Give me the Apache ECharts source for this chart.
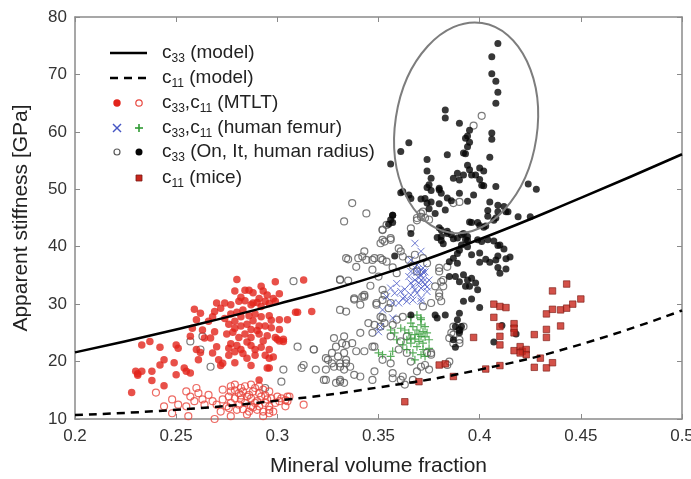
<!DOCTYPE html>
<html>
<head>
<meta charset="utf-8">
<script src="https://cdn.jsdelivr.net/npm/echarts@6/dist/echarts.min.js"></script>
<style>
html,body{margin:0;padding:0;background:#fff;}
#chart{width:691px;height:479px;}
</style>
</head>
<body>
<div id="chart"></div>
<script>
// ---------- data ----------
const xTicks = [0.2, 0.25, 0.3, 0.35, 0.4, 0.45, 0.5];
const yTicks = [10, 20, 30, 40, 50, 60, 70, 80];

const c33Model = [[0.2,21.6],[0.25,25.6],[0.3,30.0],[0.35,35.0],[0.4,41.3],[0.45,48.5],[0.5,56.1]];
const c11Model = [[0.2,10.7],[0.25,11.6],[0.3,13.2],[0.35,15.5],[0.4,18.6],[0.45,23.0],[0.5,28.9]];

const mtltC33 = [[0.228,14.6],[0.230,18.3],[0.231,17.9],[0.233,18.3],[0.231,17.6],[0.233,22.9],[0.237,23.5],[0.238,18.3],[0.238,16.7],[0.242,22.5],[0.244,20.3],[0.242,19.4],[0.244,15.8],[0.249,19.8],[0.250,17.7],[0.250,22.9],[0.251,22.3],[0.254,18.9],[0.255,18.3],[0.257,18.0],[0.257,24.4],[0.258,25.8],[0.259,29.1],[0.260,27.3],[0.262,28.4],[0.260,22.1],[0.262,21.6],[0.261,20.3],[0.263,25.5],[0.264,24.1],[0.266,27.0],[0.268,27.8],[0.269,28.7],[0.270,30.2],[0.272,29.3],[0.267,24.1],[0.269,25.2],[0.270,22.6],[0.268,21.5],[0.271,20.3],[0.273,19.7],[0.272,19.3],
[0.280,34.3],[0.313,34.2],[0.299,33.9],[0.292,33.1],[0.279,32.3],[0.284,32.4],[0.286,32.4],[0.301,31.8],[0.295,31.6],[0.298,31.0],[0.291,31.0],[0.288,30.2],[0.294,30.5],[0.274,30.2],[0.277,29.9],[0.281,30.5],[0.284,30.6],[0.287,29.9],[0.290,30.3],[0.292,29.6],[0.296,30.1],[0.299,30.5],[0.309,28.6],[0.310,28.6],[0.317,28.7],[0.305,27.3],[0.301,27.3],[0.277,28.3],[0.280,28.6],[0.282,27.8],[0.286,28.0],[0.289,28.3],[0.292,27.8],[0.296,28.0],[0.297,27.2],[0.276,26.5],[0.279,27.0],[0.282,26.2],[0.285,26.5],[0.287,25.6],[0.291,26.2],[0.294,26.2],[0.297,25.9],[0.301,25.6],[0.275,24.8],[0.278,25.1],[0.281,24.2],[0.284,24.8],[0.287,24.2],[0.291,24.8],[0.295,24.5],[0.299,24.2],[0.293,23.6],[0.300,23.9],[0.303,23.9],[0.277,23.1],[0.280,22.8],[0.282,22.1],[0.287,22.8],[0.289,22.1],[0.292,22.5],[0.296,22.1],[0.276,21.1],[0.279,21.7],[0.283,21.4],[0.289,21.1],[0.294,21.1],[0.296,20.6],[0.298,20.8],[0.296,18.9],[0.291,16.8],[0.303,23.5],[0.301,23.6],[0.295,18.9],
[0.283,29.0],[0.288,27.1],[0.285,23.4],[0.279,25.8],[0.290,25.4],[0.282,31.2],[0.288,32.0],[0.293,32.3],[0.274,27.5],[0.276,22.3],[0.285,20.6],[0.279,19.8],[0.287,19.3]];

const mtltC11 = [[0.240,14.6],[0.244,12.2],[0.248,13.4],[0.248,11.0],[0.251,12.5],[0.255,14.8],[0.257,13.9],[0.259,13.1],[0.256,10.5],[0.255,12.2],[0.260,15.4],[0.261,14.5],[0.263,13.4],[0.264,12.5],[0.266,14.2],[0.268,13.1],[0.270,12.5],[0.272,11.3],[0.269,10.0],[0.273,13.4],[0.273,15.1],
[0.277,15.7],[0.279,16.0],[0.282,15.4],[0.284,15.7],[0.287,16.0],[0.289,15.4],[0.291,15.7],[0.277,14.8],[0.281,14.5],[0.283,14.8],[0.286,14.2],[0.288,14.8],[0.291,14.5],[0.293,15.1],[0.296,14.8],[0.276,13.9],[0.279,13.6],[0.282,13.4],[0.285,13.9],[0.287,13.6],[0.290,13.1],[0.292,13.9],[0.295,13.4],[0.297,13.6],[0.300,13.9],[0.302,13.6],[0.305,13.9],[0.277,12.8],[0.281,12.5],[0.284,12.8],[0.287,12.2],[0.289,12.8],[0.291,12.2],[0.294,12.8],[0.296,12.2],[0.299,12.8],[0.301,13.1],[0.304,12.2],[0.276,11.9],[0.280,11.6],[0.283,11.7],[0.286,11.3],[0.290,11.6],[0.293,11.3],[0.296,11.6],[0.298,11.3],[0.313,12.5],
[0.293,10.5],[0.296,11.0],[0.305,13.1],[0.306,13.9],[0.304,13.3],[0.277,10.5],[0.275,12.2],[0.285,10.8],[0.288,12.0],[0.282,14.1],[0.294,14.1],[0.279,15.0]];

const radiusOpen = [[0.308,34.0],[0.257,23.5],[0.263,24.4],[0.262,22.1],[0.267,19.1],[0.310,22.6],[0.303,18.6],[0.302,16.5],[0.313,19.4],[0.312,18.9],[0.318,22.1],[0.319,18.6],[0.324,16.8],[0.325,20.3],[0.327,21.5],[0.328,24.1],[0.329,22.6],[0.330,20.9],[0.331,19.7],[0.328,19.1],[0.333,24.4],[0.334,22.9],[0.333,21.5],[0.334,20.3],[0.331,16.5],[0.329,16.3],[0.331,34.2],[0.331,29.0],[0.334,28.7],[0.333,44.4],[0.334,38.0],
[0.337,47.6],[0.344,45.8],[0.352,43.0],[0.356,41.5],[0.353,40.9],[0.351,40.6],[0.360,39.7],[0.361,39.2],[0.362,38.3],[0.366,43.2],[0.369,45.0],[0.365,37.7],[0.367,36.7],[0.369,35.7],[0.343,39.2],[0.340,38.0],[0.344,37.7],[0.335,37.8],[0.348,38.0],[0.352,37.7],[0.339,36.5],[0.347,36.0],[0.357,36.4],[0.359,35.4],[0.331,34.3],[0.335,34.1],[0.346,33.2],[0.350,34.8],[0.352,32.5],[0.353,31.6],[0.343,31.6],[0.338,31.0],[0.342,31.3],[0.349,30.2],[0.352,30.7],[0.356,30.2],[0.355,29.3],
[0.349,29.9],[0.351,27.8],[0.345,26.7],[0.348,26.4],[0.351,26.1],[0.353,26.7],[0.357,26.4],[0.359,27.3],[0.362,27.8],[0.341,25.0],[0.332,23.2],[0.337,23.2],[0.339,21.8],[0.343,21.8],[0.324,20.6],[0.334,19.7],[0.336,19.1],[0.331,19.1],[0.333,18.6],[0.324,18.6],[0.327,19.7],[0.338,17.7],[0.341,17.4],[0.347,16.8],[0.348,18.3],[0.323,16.8],[0.331,16.8],[0.333,16.3],[0.318,22.1],[0.348,22.6],[0.360,22.1],[0.364,21.5],[0.357,17.1],[0.361,16.8],[0.363,16.0],[0.361,23.5],[0.364,24.4],[0.356,24.4],[0.366,20.0],[0.369,18.3],
[0.380,35.7],[0.384,36.5],[0.382,34.2],[0.378,33.1],[0.380,31.3],[0.376,30.2],[0.372,29.6],[0.387,26.1],[0.390,25.5],[0.392,26.1],[0.390,23.8],[0.387,24.7],[0.374,21.5],[0.376,21.2],[0.371,19.1],[0.375,18.6],[0.367,16.8],[0.362,17.4],[0.357,18.0],[0.356,19.7],[0.384,19.4],[0.352,20.3],[0.347,22.6],[0.347,25.0],[0.352,27.6],[0.341,29.9],[0.338,30.8],[0.343,31.3],[0.352,41.2],[0.342,38.3],[0.347,37.7],[0.351,38.0],[0.354,37.4],
[0.371,45.8],[0.373,45.0],[0.369,44.6],[0.387,47.6],[0.390,47.8],[0.381,33.9],[0.382,33.1],[0.380,31.9],[0.381,30.5],[0.386,25.0],[0.387,23.2],[0.390,23.2],[0.385,24.1],[0.372,38.0],[0.368,38.6],[0.374,37.1],[0.376,21.5],[0.373,19.4],[0.385,20.0],[0.372,46.1],[0.371,45.2],[0.375,44.7],[0.352,42.9],[0.354,43.8],[0.356,41.2],[0.380,36.3],[0.401,62.8],[0.397,61.1],[0.294,15.4]];

const radiusFilled = [[0.409,75.4],[0.406,73.1],[0.406,70.1],[0.408,68.8],[0.409,66.9],[0.408,65.0],[0.383,63.8],[0.383,62.4],[0.390,61.5],[0.395,60.3],[0.394,59.3],[0.393,58.9],[0.395,58.2],[0.394,57.4],[0.393,56.2],[0.406,59.8],[0.406,58.7],[0.365,58.1],[0.361,56.6],[0.356,54.4],[0.384,56.0],[0.392,56.3],[0.405,55.6],[0.374,55.2],[0.374,53.2],[0.376,51.9],[0.375,50.8],[0.394,54.2],[0.395,53.4],[0.400,53.7],[0.402,53.2],[0.398,52.5],[0.400,51.7],[0.396,52.5],[0.389,52.8],[0.387,51.9],[0.390,51.6],[0.392,52.5],[0.402,50.6],[0.408,50.5],[0.380,50.2],
[0.374,50.3],[0.376,49.8],[0.373,48.4],[0.376,47.8],[0.374,47.6],[0.380,49.9],[0.381,49.3],[0.384,48.5],[0.386,48.0],[0.362,49.6],[0.365,49.0],[0.390,49.3],[0.397,49.0],[0.394,47.9],[0.401,50.7],[0.424,50.9],[0.428,50.0],[0.405,47.8],[0.412,47.0],[0.404,46.3],[0.414,46.1],[0.425,45.2],[0.419,45.2],[0.408,45.0],[0.395,44.3],[0.400,43.7],[0.403,43.6],[0.378,45.8],[0.357,45.5],[0.356,44.7],[0.380,43.3],[0.384,42.7],[0.386,42.1],[0.381,41.8],[0.389,41.5],[0.391,42.1],[0.394,41.1],
[0.371,48.3],[0.380,47.5],[0.375,46.6],[0.383,46.4],[0.409,47.2],[0.409,46.1],[0.413,46.1],[0.404,45.3],[0.407,44.6],[0.396,44.2],[0.402,43.4],[0.399,44.2],[0.381,42.9],[0.384,42.3],[0.379,41.6],[0.381,41.1],[0.387,41.4],[0.382,40.5],[0.392,42.3],[0.394,41.8],[0.393,41.2],[0.391,40.3],[0.394,40.0],[0.390,39.4],[0.389,38.8],[0.387,38.0],[0.385,37.4],[0.389,37.1],[0.399,41.2],[0.401,40.9],[0.404,41.2],[0.407,41.0],[0.409,40.2],[0.410,40.3],[0.412,39.6],[0.396,38.6],[0.400,38.9],[0.403,37.8],[0.400,37.3],[0.405,37.3],[0.408,37.7],[0.409,38.4],[0.413,37.9],[0.415,38.2],[0.409,36.4],[0.413,36.1],[0.410,35.4],
[0.385,34.8],[0.388,34.8],[0.392,35.1],[0.394,34.2],[0.396,34.5],[0.398,33.7],[0.395,33.1],[0.399,32.5],[0.393,33.1],[0.390,33.9],[0.392,30.5],[0.396,30.9],[0.400,29.4],[0.390,28.4],[0.389,27.3],[0.391,26.1],[0.390,25.0],[0.383,28.1],[0.379,27.6],[0.388,26.1],[0.390,25.5],[0.388,22.5],[0.387,23.8],[0.411,26.3],[0.418,24.8],[0.407,23.4],[0.357,45.5],[0.357,44.2],[0.355,43.9],[0.358,38.4],[0.361,49.4],[0.366,48.4],[0.366,28.1],[0.366,42.3],[0.378,28.1]];

const femurC33 = [[0.368,40.6],[0.371,39.2],[0.356,32.8],[0.358,31.9],[0.361,32.2],[0.362,31.0],[0.363,31.3],[0.366,31.6],[0.367,30.7],[0.369,31.9],[0.371,31.0],[0.371,30.5],[0.364,30.5],[0.354,31.3],[0.357,30.2],[0.360,30.2],[0.352,29.0],[0.357,27.6],[0.350,25.2],[0.351,26.1],[0.366,35.7],[0.369,36.0],[0.371,35.1],[0.372,34.5],[0.368,34.2],[0.370,33.7],[0.373,33.4],[0.366,33.7],[0.374,32.2],[0.371,32.8],[0.367,33.1],[0.365,34.8],[0.369,36.8],[0.372,36.3],[0.375,34.2],[0.366,37.7],[0.369,35.5],[0.372,35.6],[0.373,35.6],[0.374,33.0],[0.370,34.6],[0.372,33.9],[0.368,32.5],[0.363,32.6],[0.359,33.6]];

const femurC11 = [[0.350,21.5],[0.352,21.2],[0.356,20.9],[0.357,21.8],[0.366,27.8],[0.369,28.1],[0.371,27.6],[0.366,26.7],[0.367,26.1],[0.371,26.4],[0.373,26.1],[0.374,25.0],[0.371,24.4],[0.368,24.7],[0.365,25.0],[0.363,25.5],[0.361,25.8],[0.358,25.0],[0.356,25.5],[0.364,23.8],[0.366,23.2],[0.370,23.5],[0.372,23.2],[0.375,23.8],[0.369,22.6],[0.372,22.1],[0.367,21.5],[0.371,21.2],[0.373,20.9],[0.364,22.1],[0.362,22.9],[0.359,23.8],[0.369,25.5],[0.372,25.2],[0.366,24.1],[0.375,22.3],[0.368,20.3],[0.371,27.3],[0.370,24.8],[0.373,24.3],[0.368,23.9]];

const miceC11 = [[0.363,13.0],[0.370,16.5],[0.380,19.4],[0.383,19.6],[0.387,17.4],[0.397,24.2],[0.403,18.7],[0.407,30.0],[0.410,29.6],[0.413,29.4],[0.407,27.7],[0.410,26.1],[0.410,24.4],[0.410,22.9],[0.417,26.6],[0.417,25.8],[0.417,25.0],[0.410,19.3],[0.417,21.9],[0.420,22.6],[0.421,21.8],[0.423,22.1],[0.423,21.2],[0.420,21.5],[0.427,24.7],[0.427,19.0],[0.430,20.6],[0.433,18.9],[0.436,19.8],[0.433,28.3],[0.433,25.6],[0.433,24.2],[0.436,32.3],[0.436,29.1],[0.440,29.0],[0.443,29.3],[0.446,30.0],[0.450,30.9],[0.443,33.5],[0.440,26.2]];

// annotation ellipse (data-space centre)
const ellipseCenter = [0.3933, 60.7];

// ---------- chart ----------
const FONT = 'Liberation Sans, Arial, sans-serif';
const chart = echarts.init(document.getElementById('chart'), null, {renderer:'canvas'});

const axisCommon = {
  axisLine: {show:true, lineStyle:{color:'#8a8a8a', width:1.5}},
  axisTick: {show:true, inside:true, length:5, lineStyle:{color:'#8a8a8a', width:1}},
  splitLine: {show:false}
};

const crossPath = 'path://M0,0L10,10M10,0L0,10';
const plusPath = 'path://M5,0L5,10M0,5L10,5';

const option = {
  animation: false,
  backgroundColor: '#fff',
  grid: {left:75, right:9, top:17, bottom:60, containLabel:false, outerBoundsMode:'none'},
  xAxis: [
    Object.assign({
      type:'value', min:0.2, max:0.5, interval:0.05, position:'bottom',
      name:'Mineral volume fraction', nameLocation:'middle', nameGap:37,
      nameTextStyle:{fontFamily:FONT, fontSize:21, color:'#222'},
      axisLabel:{fontFamily:FONT, fontSize:17, color:'#333', margin:9}
    }, axisCommon),
    Object.assign({
      type:'value', min:0.2, max:0.5, interval:0.05, position:'top',
      axisLabel:{show:false}
    }, axisCommon)
  ],
  yAxis: [
    Object.assign({
      type:'value', min:10, max:80, interval:10, position:'left',
      name:'Apparent stiffness [GPa]', nameLocation:'middle', nameGap:43, nameRotate:90,
      nameTextStyle:{fontFamily:FONT, fontSize:21, color:'#222'},
      axisLabel:{fontFamily:FONT, fontSize:17, color:'#333', margin:8}
    }, axisCommon),
    Object.assign({
      type:'value', min:10, max:80, interval:10, position:'right',
      axisLabel:{show:false}
    }, axisCommon)
  ],
  series: [
    {type:'scatter', name:'radiusOpen', data:radiusOpen, symbol:'circle', symbolSize:7,
     itemStyle:{color:'rgba(255,255,255,0)', borderColor:'#5a5a5a', borderWidth:1.2}, z:2},
    {type:'scatter', name:'mtltC11', data:mtltC11, symbol:'circle', symbolSize:7,
     itemStyle:{color:'rgba(255,255,255,0)', borderColor:'#e8473f', borderWidth:1.2}, z:2},
    {type:'scatter', name:'mtltC33', data:mtltC33, symbol:'circle', symbolSize:7.5,
     itemStyle:{color:'#e2241b'}, z:3},
    {type:'scatter', name:'femurC33', data:femurC33, symbol:crossPath, symbolSize:7,
     itemStyle:{color:'none', borderColor:'#4656c4', borderWidth:1}, z:3},
    {type:'scatter', name:'femurC11', data:femurC11, symbol:plusPath, symbolSize:8,
     itemStyle:{color:'none', borderColor:'#2f9a33', borderWidth:1.2}, z:3},
    {type:'scatter', name:'radiusFilled', data:radiusFilled, symbol:'circle', symbolSize:7,
     itemStyle:{color:'#050505'}, z:4},
    {type:'scatter', name:'miceC11', data:miceC11, symbol:'rect', symbolSize:6.5,
     itemStyle:{color:'#c8261c', borderColor:'#7a1a14', borderWidth:0.8}, z:4},
    {type:'line', name:'c33Model', data:c33Model, smooth:true, symbol:'none',
     lineStyle:{color:'#000', width:2.5}, z:6},
    {type:'line', name:'c11Model', data:c11Model, smooth:true, symbol:'none',
     lineStyle:{color:'#000', width:2.5, type:[8,6]}, z:6}
  ]
};
chart.setOption(option);

// ---------- legend & annotation ellipse ----------
const subRich = {
  m:{fontSize:19, fontFamily:FONT, fill:'#222', lineHeight:23},
  s:{fontSize:12, fontFamily:FONT, fill:'#222', lineHeight:12, verticalAlign:'bottom'}
};
function legendText(y, t){
  return {type:'text', x:162, y:y, z:20,
    style:{text:t, rich:subRich, verticalAlign:'middle', align:'left'}};
}
const lx1 = 117, lx2 = 139;
const rows = [53, 78, 103, 128, 152, 178];
const ec = chart.convertToPixel({gridIndex:0}, ellipseCenter);

const g = [
  {type:'line', z:20, shape:{x1:110,y1:rows[0],x2:147,y2:rows[0]}, style:{stroke:'#000', lineWidth:2.5}},
  legendText(rows[0], '{m|c}{s|33}{m| (model)}'),
  {type:'line', z:20, shape:{x1:110,y1:rows[1],x2:147,y2:rows[1]}, style:{stroke:'#000', lineWidth:2.5, lineDash:[8,6]}},
  legendText(rows[1], '{m|c}{s|11}{m| (model)}'),
  {type:'circle', z:20, shape:{cx:lx1, cy:rows[2], r:3.7}, style:{fill:'#e2241b'}},
  {type:'circle', z:20, shape:{cx:lx2, cy:rows[2], r:3.2}, style:{fill:'none', stroke:'#e8473f', lineWidth:1.2}},
  legendText(rows[2], '{m|c}{s|33}{m|,c}{s|11}{m| (MTLT)}'),
  {type:'line', z:20, shape:{x1:lx1-4,y1:rows[3]-4,x2:lx1+4,y2:rows[3]+4}, style:{stroke:'#4656c4', lineWidth:1.4}},
  {type:'line', z:20, shape:{x1:lx1-4,y1:rows[3]+4,x2:lx1+4,y2:rows[3]-4}, style:{stroke:'#4656c4', lineWidth:1.4}},
  {type:'line', z:20, shape:{x1:lx2-4,y1:rows[3],x2:lx2+4,y2:rows[3]}, style:{stroke:'#2f9a33', lineWidth:1.6}},
  {type:'line', z:20, shape:{x1:lx2,y1:rows[3]-4,x2:lx2,y2:rows[3]+4}, style:{stroke:'#2f9a33', lineWidth:1.6}},
  legendText(rows[3], '{m|c}{s|33}{m|,c}{s|11}{m| (human femur)}'),
  {type:'circle', z:20, shape:{cx:lx1, cy:rows[4], r:3}, style:{fill:'none', stroke:'#5a5a5a', lineWidth:1.2}},
  {type:'circle', z:20, shape:{cx:lx2, cy:rows[4], r:3.5}, style:{fill:'#050505'}},
  legendText(rows[4], '{m|c}{s|33}{m| (On, It, human radius)}'),
  {type:'rect', z:20, shape:{x:lx2-3, y:rows[5]-3, width:6, height:6}, style:{fill:'#c8261c', stroke:'#7a1a14', lineWidth:0.8}},
  legendText(rows[5], '{m|c}{s|11}{m| (mice)}'),
  {type:'ellipse', z:15, x:ec[0], y:ec[1], rotation:-0.15,
   shape:{cx:0, cy:0, rx:71, ry:106}, style:{fill:'none', stroke:'#7d7d7d', lineWidth:2}}
];
chart.setOption({graphic: g});
</script>
</body>
</html>
